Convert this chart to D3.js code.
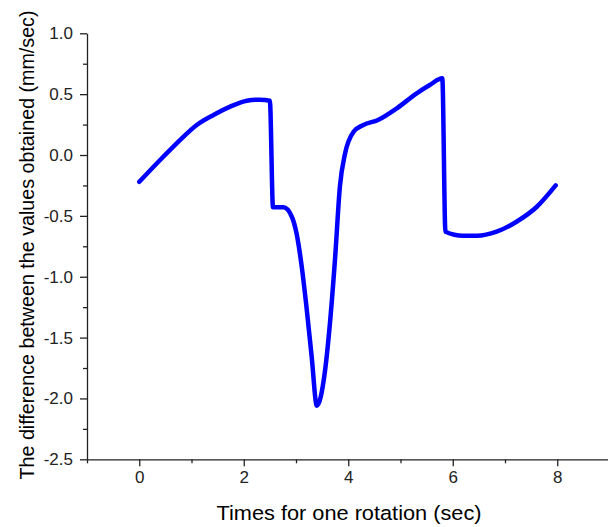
<!DOCTYPE html>
<html>
<head>
<meta charset="utf-8">
<script src="https://cdn.jsdelivr.net/npm/d3@7"></script>
<style>
  body { margin: 0; background: #fff; }
  text { font-family: Arial, "Liberation Sans", sans-serif; }
</style>
</head>
<body>
<script>
// values
var times = [0, 0.46, 0.78, 1.10, 1.42, 1.74, 2.06, 2.31, 2.50,
  2.56, 2.76, 2.92, 3.01, 3.11, 3.20, 3.30, 3.40,
  3.55, 3.65, 3.75, 3.84, 3.94, 4.10, 4.29, 4.57, 4.93, 5.31, 5.56, 5.80,
  5.86, 6.20, 6.46, 6.84, 7.22, 7.61, 7.97];
var diffs = [-0.22, -0.014, 0.123, 0.247, 0.329, 0.397, 0.446, 0.455, 0.446,
  -0.43, -0.43, -0.507, -0.643, -0.918, -1.247, -1.658, -2.06,
  -1.79, -1.38, -0.836, -0.26, 0.014, 0.19, 0.247, 0.288, 0.384, 0.507, 0.575, 0.63,
  -0.63, -0.663, -0.663, -0.63, -0.548, -0.425, -0.25];

var xMajor = [0, 2, 4, 6, 8];
var xMinor = [-1, 1, 3, 5, 7, 9];
var yMajor = [-2.5, -2.0, -1.5, -1.0, -0.5, 0.0, 0.5, 1.0];
var yMinor = [-2.25, -1.75, -1.25, -0.75, -0.25, 0.25, 0.75];

var xTitle = "Times for one rotation (sec)";
var yTitle = "The difference between the values obtained (mm/sec)";

var width = 608, height = 527;
var margin = { top: 33.3, right: 0, bottom: 67.7, left: 87 };

var svg = d3.select("body")
  .append("svg")
  .attr("width", width)
  .attr("height", height);

var x = d3.scaleLinear()
  .domain([-1, 9])
  .range([margin.left, margin.left + 522.5]);

var y = d3.scaleLinear()
  .domain([-2.5, 1])
  .range([height - margin.bottom, margin.top]);

var data = times.map(function (t, i) { return { t: t, v: diffs[i] }; });

// minor ticks
svg.append("g")
  .attr("transform", "translate(0," + y(-2.5) + ")")
  .call(d3.axisBottom(x).tickValues(xMinor).tickSize(4).tickSizeOuter(0).tickFormat(""))
  .call(function (g) { g.select(".domain").remove(); });

svg.append("g")
  .attr("transform", "translate(" + margin.left + ",0)")
  .call(d3.axisLeft(y).tickValues(yMinor).tickSize(4).tickSizeOuter(0).tickFormat(""))
  .call(function (g) { g.select(".domain").remove(); });

// major axes
svg.append("g")
  .attr("transform", "translate(0," + y(-2.5) + ")")
  .call(d3.axisBottom(x).tickValues(xMajor).tickSize(7).tickSizeOuter(0).tickPadding(5)
    .tickFormat(function (d) { return d; }));

svg.append("g")
  .attr("transform", "translate(" + margin.left + ",0)")
  .call(d3.axisLeft(y).tickValues(yMajor).tickSize(7).tickSizeOuter(0).tickPadding(7)
    .tickFormat(function (d) { return d.toFixed(1); }));

svg.selectAll(".tick text")
  .style("font-size", "17px")
  .style("font-family", "Arial, 'Liberation Sans', sans-serif")
  .attr("fill", "#222");

svg.selectAll(".domain, .tick line")
  .attr("stroke", "#222")
  .attr("stroke-width", 1.3);

// the curve
var line = d3.line()
  .x(function (d) { return x(d.t); })
  .y(function (d) { return y(d.v); })
  .curve(d3.curveMonotoneX);

svg.append("path")
  .datum(data)
  .attr("d", line)
  .attr("fill", "none")
  .attr("stroke", "#0000ff")
  .attr("stroke-width", 4.5)
  .attr("stroke-linejoin", "round")
  .attr("stroke-linecap", "round");

// titles
svg.append("text")
  .attr("x", 349)
  .attr("y", 520)
  .attr("text-anchor", "middle")
  .attr("textLength", 265)
  .attr("lengthAdjust", "spacingAndGlyphs")
  .style("font-size", "20.5px")
  .text(xTitle);

svg.append("text")
  .attr("transform", "translate(34,245) rotate(-90)")
  .attr("text-anchor", "middle")
  .attr("textLength", 469)
  .attr("lengthAdjust", "spacingAndGlyphs")
  .style("font-size", "20px")
  .text(yTitle);
</script>
</body>
</html>
